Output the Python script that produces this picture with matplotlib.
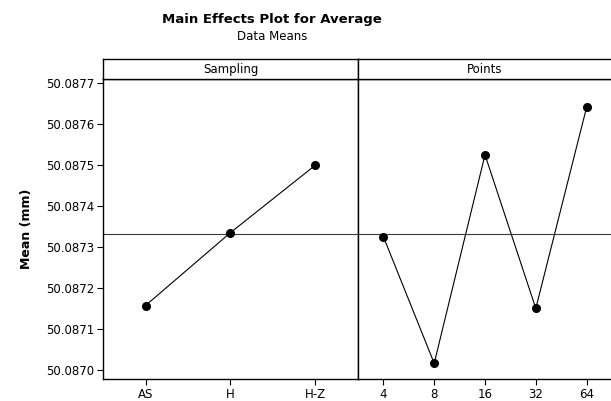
import numpy as np
import matplotlib.pyplot as plt

# data means
sampling_levels = ['AS', 'H', 'H-Z']
sampling_means = [50.087157, 50.087335, 50.087500]
points_levels = ['4', '8', '16', '32', '64']
points_means = [50.087325, 50.087016, 50.087525, 50.087150, 50.087641]
grand_mean = 50.087332

y_ticks = [50.0870, 50.0871, 50.0872, 50.0873, 50.0874, 50.0875, 50.0876, 50.0877]

fig = plt.figure(figsize=(6.11, 4.01), dpi=100)
W, H = 611, 401

left, mid, right = 103, 358, 612
top, bottom, strip_top = 79, 379.3, 59.3

def px(x0, y0, x1, y1):
    return [x0 / W, 1 - y1 / H, (x1 - x0) / W, (y1 - y0) / H]

ax1 = fig.add_axes(px(left, top, mid, bottom))
ax2 = fig.add_axes(px(mid, top, right, bottom), sharey=ax1)
s1 = fig.add_axes(px(left, strip_top, mid, top))
s2 = fig.add_axes(px(mid, strip_top, right, top))

for ax, levels, means in [(ax1, sampling_levels, sampling_means),
                          (ax2, points_levels, points_means)]:
    x = np.arange(1, len(levels) + 1)
    ax.plot(x, means, color='black', lw=0.8, marker='o', ms=5.5, zorder=3)
    ax.axhline(grand_mean, color='#3a3a3a', lw=0.8, zorder=2)
    ax.set_xlim(0.5, len(levels) + 0.5)
    ax.set_xticks(x)
    ax.set_xticklabels(levels, fontsize=8.5)
    ax.tick_params(direction='out', length=4, width=0.8, pad=2)
    for sp in ax.spines.values():
        sp.set_linewidth(1.0)

ax1.set_ylim(50.086977, 50.08771)
ax1.set_yticks(y_ticks)
ax1.set_yticklabels([f'{v:.4f}' for v in y_ticks], fontsize=8.5)
ax2.tick_params(axis='y', left=False, labelleft=False)
ax1.set_ylabel('Mean (mm)', fontsize=9, fontweight='bold', labelpad=10)

for s, name in [(s1, 'Sampling'), (s2, 'Points')]:
    s.set_xticks([])
    s.set_yticks([])
    for sp in s.spines.values():
        sp.set_linewidth(1.0)
    s.text(0.5, 0.5, name, ha='center', va='center', fontsize=8.5, transform=s.transAxes)

fig.text(272 / W, 1 - 20 / H, 'Main Effects Plot for Average', ha='center', va='center',
         fontsize=9.5, fontweight='bold')
fig.text(272 / W, 1 - 37 / H, 'Data Means', ha='center', va='center', fontsize=8.5)

fig.savefig('out.png', dpi=100)
